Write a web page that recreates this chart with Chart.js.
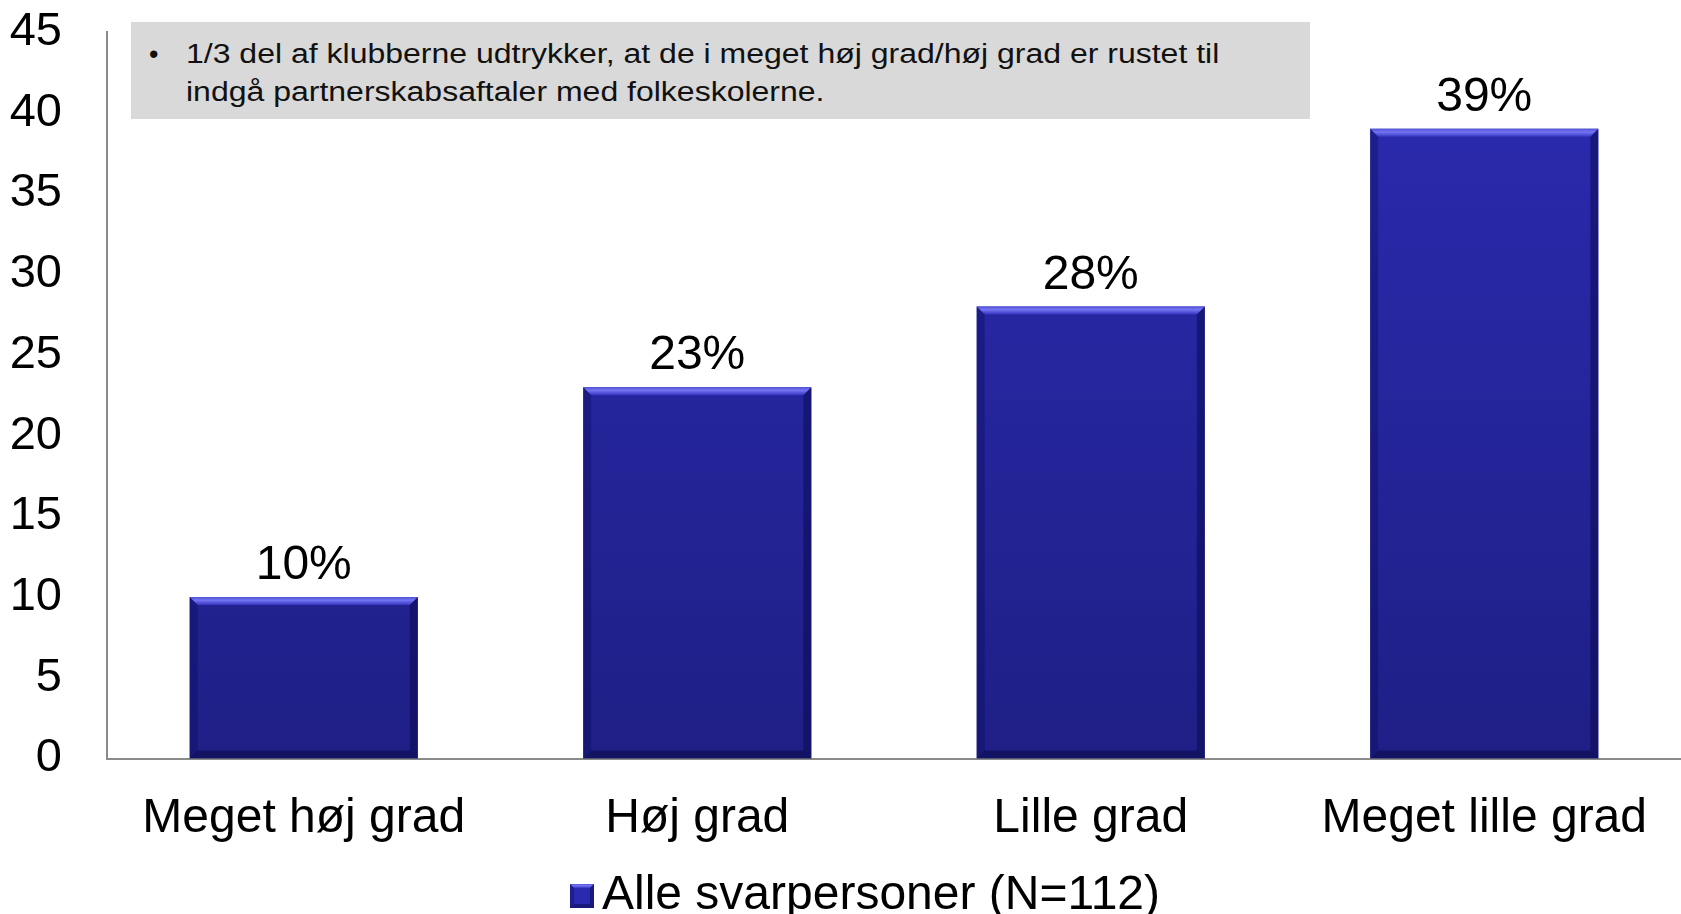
<!DOCTYPE html>
<html>
<head>
<meta charset="utf-8">
<script src="https://cdn.jsdelivr.net/npm/chart.js@4"></script>
<style>
  body { margin: 0; background: #fff; }
  #wrap { position: relative; width: 1681px; height: 914px; }
  #note {
    position: absolute; left: 131px; top: 22px; width: 1179px; height: 97px;
    background: #d9d9d9; font-family: "Liberation Sans", Arial, sans-serif;
    font-size: 27px; line-height: 38px; color: #111; box-sizing: border-box;
  }
  #note .bullet { position: absolute; left: 18px; top: 13px; }
  #note .txt { position: absolute; left: 55px; top: 13px; white-space: nowrap;
    transform: scaleX(1.185); transform-origin: 0 0; }
</style>
</head>
<body>
<div id="wrap">
  <canvas id="chart" width="1681" height="914"></canvas>
  <div id="note"><span class="bullet">•</span><div class="txt">1/3 del af klubberne udtrykker, at de i meget høj grad/høj grad er rustet til<br>indgå partnerskabsaftaler med folkeskolerne.</div></div>
</div>
<script>
// data
const categories = ['Meget høj grad', 'Høj grad', 'Lille grad', 'Meget lille grad'];
const values = [10, 23, 28, 39];
const seriesLabel = 'Alle svarpersoner (N=112)';
const yMin = 0, yMax = 45, yStep = 5;

const fontFamily = '"Liberation Sans", Arial, sans-serif';

// bar face gradient, top slightly brighter
function barFill(context) {
    const area = context.chart.chartArea;
    if (!area) return '#2626a6';
    const g = context.chart.ctx.createLinearGradient(0, area.top, 0, area.bottom);
    g.addColorStop(0, '#2b2bb2');
    g.addColorStop(1, '#1f1f86');
    return g;
}

// bevelled box: top light, sides and bottom darker
function bevel(ctx, l, r, t, b, e) {
    const gt = ctx.createLinearGradient(0, t, 0, t + e);
    gt.addColorStop(0, '#5252d8');
    gt.addColorStop(0.4, '#7474f2');
    gt.addColorStop(1, '#3434c0');
    ctx.fillStyle = gt;
    ctx.beginPath();
    ctx.moveTo(l, t); ctx.lineTo(r, t); ctx.lineTo(r - e, t + e); ctx.lineTo(l + e, t + e); ctx.closePath();
    ctx.fill();
    ctx.fillStyle = 'rgba(10,10,90,0.35)';
    ctx.beginPath();
    ctx.moveTo(l, t); ctx.lineTo(l + e, t + e); ctx.lineTo(l + e, b - e); ctx.lineTo(l, b); ctx.closePath();
    ctx.fill();
    ctx.fillStyle = 'rgba(5,5,70,0.45)';
    ctx.beginPath();
    ctx.moveTo(r, t); ctx.lineTo(r - e, t + e); ctx.lineTo(r - e, b - e); ctx.lineTo(r, b); ctx.closePath();
    ctx.fill();
    ctx.fillStyle = 'rgba(5,5,60,0.45)';
    ctx.beginPath();
    ctx.moveTo(l, b); ctx.lineTo(r, b); ctx.lineTo(r - e, b - e); ctx.lineTo(l + e, b - e); ctx.closePath();
    ctx.fill();
}

const LEGEND_BOX = 57; // invisible legend box, real square drawn below

const bevelPlugin = {
    id: 'bevel',
    afterDatasetsDraw(chart) {
        const ctx = chart.ctx;
        const meta = chart.getDatasetMeta(0);
        meta.data.forEach((bar, i) => {
            const p = bar.getProps(['x', 'y', 'base', 'width'], true);
            const l = p.x - p.width / 2, r = p.x + p.width / 2;
            ctx.save();
            bevel(ctx, l, r, p.y, p.base, 8);
            ctx.fillStyle = '#000';
            ctx.font = '48px ' + fontFamily;
            ctx.textAlign = 'center';
            ctx.textBaseline = 'middle';
            ctx.fillText(values[i] + '%', p.x, p.y - 31);
            ctx.restore();
        });
    },
    afterDraw(chart) {
        const hb = chart.legend && chart.legend.legendHitBoxes[0];
        if (!hb) return;
        const ctx = chart.ctx;
        const x = hb.left + LEGEND_BOX + 24 - 32;
        const y = hb.top + hb.height / 2 - 12;
        ctx.save();
        ctx.fillStyle = '#2a2aae';
        ctx.fillRect(x, y, 24, 24);
        bevel(ctx, x, x + 24, y, y + 24, 4);
        ctx.restore();
    }
};

new Chart(document.getElementById('chart'), {
    type: 'bar',
    data: {
        labels: categories,
        datasets: [{
            label: seriesLabel,
            data: values,
            backgroundColor: barFill,
            borderWidth: 0,
            categoryPercentage: 1,
            barPercentage: 0.58
        }]
    },
    options: {
        responsive: false,
        animation: false,
        layout: { padding: { top: 32, right: 0, bottom: -16, left: 0 } },
        scales: {
            x: {
                grid: { display: false, drawTicks: false },
                border: { display: true, color: '#8a8a8a', width: 2 },
                ticks: { color: '#000', font: { size: 48, family: fontFamily }, padding: 31, maxRotation: 0 },
                afterFit(scale) { scale.height = 109.5; }
            },
            y: {
                min: yMin,
                max: yMax,
                grid: { display: false, drawTicks: false },
                border: { display: true, color: '#8a8a8a', width: 2 },
                ticks: { stepSize: yStep, color: '#000', font: { size: 47, family: fontFamily }, padding: 45 },
                afterFit(scale) {
                    scale.width = 107;
                    scale.paddingTop = 0;
                    scale.paddingBottom = 0;
                }
            }
        },
        plugins: {
            tooltip: { enabled: false },
            legend: {
                position: 'bottom',
                labels: {
                    color: '#000',
                    font: { size: 48, family: fontFamily },
                    boxWidth: LEGEND_BOX,
                    boxHeight: 24,
                    padding: 4,
                    generateLabels() {
                        return [{ text: seriesLabel, fillStyle: 'rgba(0,0,0,0)', strokeStyle: 'rgba(0,0,0,0)', lineWidth: 0, datasetIndex: 0 }];
                    }
                }
            }
        }
    },
    plugins: [bevelPlugin]
});
</script>
</body>
</html>
